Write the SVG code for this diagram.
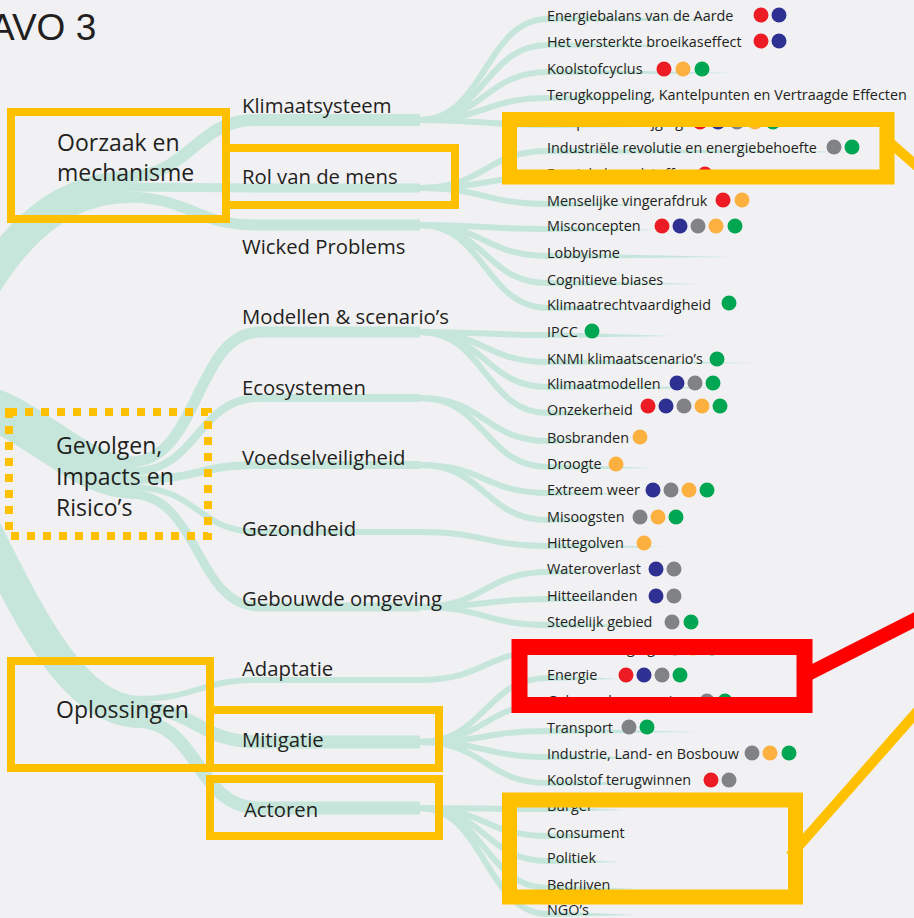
<svg xmlns="http://www.w3.org/2000/svg" width="914" height="918" viewBox="0 0 914 918">
<style>
.band{fill:none;stroke:#c6e6dc;stroke-linecap:butt}
.leaf{fill:none;stroke:#c6e6dc;stroke-width:6}
.tail{fill:#c6e6dc}
text{font-family:"Open Sans","Noto Sans",sans-serif;fill:#231f20}
.t1{font-size:23px}
.t2{font-size:20.3px}
.t3{font-size:14.4px}
.title{font-family:"Liberation Sans",Arial,sans-serif;font-size:37px}
.r{fill:#ed1c24}.b{fill:#2e3192}.g{fill:#808285}.o{fill:#fbb040}.gr{fill:#00a651}
.hl{fill:none;stroke:#ffc000;stroke-width:8}
.hl15{fill:none;stroke:#ffc000;stroke-width:15}
</style>
<rect width="914" height="918" fill="#f1f1f3"/>
<g id="connectors">
<path class="band" stroke-width="32" d="M-40 330C0 250 50 187 130 187"/>
<path class="band" stroke-width="42" d="M-40 400C30 410 75 478 135 478"/>
<path class="band" stroke-width="32" d="M-40 480C10 570 60 712 140 712"/>
<path class="band" stroke-width="12" d="M125 177C190 177 195 120 255 120L420 120"/>
<path class="band" stroke-width="9" d="M125 187C190 187 195 188 255 188L420 188"/>
<path class="band" stroke-width="11" d="M125 197C190 197 195 225 255 225L420 225"/>
<path class="band" stroke-width="11" d="M130 462C200 462 195 332 260 332L420 332"/>
<path class="band" stroke-width="8" d="M130 472C200 472 195 398 260 398L420 398"/>
<path class="band" stroke-width="8" d="M130 480C200 480 195 465 260 465L420 465"/>
<path class="band" stroke-width="6" d="M130 487C200 487 195 532 260 532L420 532"/>
<path class="band" stroke-width="9" d="M130 494C200 494 195 607 260 607L420 607"/>
<path class="band" stroke-width="6" d="M135 699C200 699 195 680 260 680L420 680"/>
<path class="band" stroke-width="13" d="M135 708C200 708 195 742 260 742L420 742"/>
<path class="band" stroke-width="13" d="M135 721C200 721 195 808 260 808L420 808"/>
<path class="leaf" d="M420 120C485 120 485 19 548 19"/>
<path class="leaf" d="M420 120C485 120 485 45 548 45"/>
<path class="leaf" d="M420 120C485 120 485 72 548 72"/>
<path class="leaf" d="M420 120C485 120 485 98 548 98"/>
<path class="leaf" d="M420 120C485 120 485 125 548 125"/>
<path class="leaf" d="M420 188C485 188 485 151 548 151"/>
<path class="leaf" d="M420 188C485 188 485 177 548 177"/>
<path class="leaf" d="M420 188C485 188 485 204 548 204"/>
<path class="leaf" d="M420 225C485 225 485 229 548 229"/>
<path class="leaf" d="M420 225C485 225 485 256 548 256"/>
<path class="leaf" d="M420 225C485 225 485 283 548 283"/>
<path class="leaf" d="M420 225C485 225 485 308 548 308"/>
<path class="leaf" d="M420 332C485 332 485 335 548 335"/>
<path class="leaf" d="M420 332C485 332 485 362 548 362"/>
<path class="leaf" d="M420 332C485 332 485 387 548 387"/>
<path class="leaf" d="M420 332C485 332 485 413 548 413"/>
<path class="leaf" d="M420 398C485 398 485 441 548 441"/>
<path class="leaf" d="M420 398C485 398 485 467 548 467"/>
<path class="leaf" d="M420 465C485 465 485 493 548 493"/>
<path class="leaf" d="M420 465C485 465 485 520 548 520"/>
<path class="leaf" d="M420 532C485 532 485 546 548 546"/>
<path class="leaf" d="M420 607C485 607 485 572 548 572"/>
<path class="leaf" d="M420 607C485 607 485 599 548 599"/>
<path class="leaf" d="M420 607C485 607 485 625 548 625"/>
<path class="leaf" d="M420 680C485 680 485 651 548 651"/>
<path class="leaf" d="M420 742C485 742 485 678 548 678"/>
<path class="leaf" d="M420 742C485 742 485 704 548 704"/>
<path class="leaf" d="M420 742C485 742 485 731 548 731"/>
<path class="leaf" d="M420 742C485 742 485 757 548 757"/>
<path class="leaf" d="M420 742C485 742 485 783 548 783"/>
<path class="leaf" d="M420 808C485 808 485 809 548 809"/>
<path class="leaf" d="M420 808C485 808 485 836 548 836"/>
<path class="leaf" d="M420 808C485 808 485 861 548 861"/>
<path class="leaf" d="M420 808C485 808 485 888 548 888"/>
<path class="leaf" d="M420 808C485 808 485 914 548 914"/>
<path class="tail" d="M548 16L740 20L548 22ZM548 42L700 46L548 48ZM548 69L737 73L548 75ZM548 95L665 99L548 101ZM548 122L752 126L548 128ZM548 148L870 152L548 154ZM548 174L700 178L548 180ZM548 201L650 205L548 207ZM548 226L657 230L548 232ZM548 253L733 257L548 259ZM548 280L700 284L548 286ZM548 305L640 309L548 311ZM548 332L673 336L548 338ZM548 359L760 363L548 365ZM548 384L728 388L548 390ZM548 410L640 414L548 416ZM548 438L600 442L548 444ZM548 464L652 468L548 470ZM548 490L620 494L548 496ZM548 517L600 521L548 523ZM548 543L665 547L548 549ZM548 569L600 573L548 575ZM548 596L610 600L548 602ZM548 622L660 626L548 628ZM548 648L727 652L548 654ZM548 675L620 679L548 681ZM548 701L640 705L548 707ZM548 728L698 732L548 734ZM548 754L650 758L548 760ZM548 780L660 784L548 786ZM548 806L625 810L548 812ZM548 833L633 837L548 839ZM548 858L622 862L548 864ZM548 885L640 889L548 891ZM548 911L637 915L548 917Z"/>
</g>
<text class="title" x="-10" y="40">AVO 3</text>
<g id="n-oorzaak"><text class="t1" x="57" y="151">Oorzaak en</text><text class="t1" x="57" y="181">mechanisme</text></g>
<g id="n-gevolgen"><text class="t1" x="56" y="454">Gevolgen,</text><text class="t1" x="56" y="485">Impacts en</text><text class="t1" x="56" y="516">Risico’s</text></g>
<g id="n-oplossingen"><text class="t1" x="56" y="718">Oplossingen</text></g>
<g id="n-klimaatsysteem"><text class="t2" x="242" y="113">Klimaatsysteem</text></g>
<g id="n-rol"><text class="t2" x="242" y="184">Rol van de mens</text></g>
<g id="n-wicked"><text class="t2" x="242" y="254">Wicked Problems</text></g>
<g id="n-modellen"><text class="t2" x="242" y="324">Modellen &amp; scenario’s</text></g>
<g id="n-ecosystemen"><text class="t2" x="242" y="395">Ecosystemen</text></g>
<g id="n-voedsel"><text class="t2" x="242" y="465">Voedselveiligheid</text></g>
<g id="n-gezondheid"><text class="t2" x="242" y="536">Gezondheid</text></g>
<g id="n-gebouwde"><text class="t2" x="242" y="606">Gebouwde omgeving</text></g>
<g id="n-adaptatie"><text class="t2" x="242" y="676">Adaptatie</text></g>
<g id="n-mitigatie"><text class="t2" x="242" y="747">Mitigatie</text></g>
<g id="n-actoren"><text class="t2" x="244" y="817">Actoren</text></g>
<g id="leaf1"><text class="t3" x="547" y="21">Energiebalans van de Aarde</text><circle class="r" cx="761" cy="15" r="7.5"/><circle class="b" cx="779" cy="15" r="7.5"/></g>
<g id="leaf2"><text class="t3" x="547" y="47">Het versterkte broeikaseffect</text><circle class="r" cx="761" cy="41" r="7.5"/><circle class="b" cx="779" cy="41" r="7.5"/></g>
<g id="leaf3"><text class="t3" x="547" y="74">Koolstofcyclus</text><circle class="r" cx="664" cy="69" r="7.5"/><circle class="o" cx="683" cy="69" r="7.5"/><circle class="gr" cx="702" cy="69" r="7.5"/></g>
<g id="leaf4"><text class="t3" x="547" y="100">Terugkoppeling, Kantelpunten en Vertraagde Effecten</text></g>
<g id="leaf5"><text class="t3" x="547" y="127">Temperatuurstijging</text><circle class="r" cx="700" cy="122" r="7.5"/><circle class="b" cx="718" cy="122" r="7.5"/><circle class="g" cx="737" cy="122" r="7.5"/><circle class="o" cx="755" cy="122" r="7.5"/><circle class="gr" cx="773" cy="122" r="7.5"/></g>
<g id="leaf6"><text class="t3" x="547" y="153">Industriële revolutie en energiebehoefte</text><circle class="g" cx="834" cy="147" r="7.5"/><circle class="gr" cx="852" cy="147" r="7.5"/></g>
<g id="leaf7"><text class="t3" x="547" y="179">Fossiele brandstoffen</text><circle class="r" cx="705" cy="174" r="7.5"/></g>
<g id="leaf8"><text class="t3" x="547" y="206">Menselijke vingerafdruk</text><circle class="r" cx="723" cy="200" r="7.5"/><circle class="o" cx="742" cy="200" r="7.5"/></g>
<g id="leaf9"><text class="t3" x="547" y="231">Misconcepten</text><circle class="r" cx="662" cy="226" r="7.5"/><circle class="b" cx="680" cy="226" r="7.5"/><circle class="g" cx="698" cy="226" r="7.5"/><circle class="o" cx="716" cy="226" r="7.5"/><circle class="gr" cx="735" cy="226" r="7.5"/></g>
<g id="leaf10"><text class="t3" x="547" y="258">Lobbyisme</text></g>
<g id="leaf11"><text class="t3" x="547" y="285">Cognitieve biases</text></g>
<g id="leaf12"><text class="t3" x="547" y="310">Klimaatrechtvaardigheid</text><circle class="gr" cx="729" cy="303" r="7.5"/></g>
<g id="leaf13"><text class="t3" x="547" y="337">IPCC</text><circle class="gr" cx="592" cy="331" r="7.5"/></g>
<g id="leaf14"><text class="t3" x="547" y="364">KNMI klimaatscenario’s</text><circle class="gr" cx="717" cy="359" r="7.5"/></g>
<g id="leaf15"><text class="t3" x="547" y="389">Klimaatmodellen</text><circle class="b" cx="677" cy="383" r="7.5"/><circle class="g" cx="695" cy="383" r="7.5"/><circle class="gr" cx="713" cy="383" r="7.5"/></g>
<g id="leaf16"><text class="t3" x="547" y="415">Onzekerheid</text><circle class="r" cx="648" cy="406" r="7.5"/><circle class="b" cx="666" cy="406" r="7.5"/><circle class="g" cx="684" cy="406" r="7.5"/><circle class="o" cx="702" cy="406" r="7.5"/><circle class="gr" cx="720" cy="406" r="7.5"/></g>
<g id="leaf17"><text class="t3" x="547" y="443">Bosbranden</text><circle class="o" cx="640" cy="437" r="7.5"/></g>
<g id="leaf18"><text class="t3" x="547" y="469">Droogte</text><circle class="o" cx="616" cy="464" r="7.5"/></g>
<g id="leaf19"><text class="t3" x="547" y="495">Extreem weer</text><circle class="b" cx="653" cy="490" r="7.5"/><circle class="g" cx="671" cy="490" r="7.5"/><circle class="o" cx="689" cy="490" r="7.5"/><circle class="gr" cx="707" cy="490" r="7.5"/></g>
<g id="leaf20"><text class="t3" x="547" y="522">Misoogsten</text><circle class="g" cx="640" cy="517" r="7.5"/><circle class="o" cx="658" cy="517" r="7.5"/><circle class="gr" cx="676" cy="517" r="7.5"/></g>
<g id="leaf21"><text class="t3" x="547" y="548">Hittegolven</text><circle class="o" cx="644" cy="543" r="7.5"/></g>
<g id="leaf22"><text class="t3" x="547" y="574">Wateroverlast</text><circle class="b" cx="656" cy="569" r="7.5"/><circle class="g" cx="674" cy="569" r="7.5"/></g>
<g id="leaf23"><text class="t3" x="547" y="601">Hitteeilanden</text><circle class="b" cx="656" cy="596" r="7.5"/><circle class="g" cx="674" cy="596" r="7.5"/></g>
<g id="leaf24"><text class="t3" x="547" y="627">Stedelijk gebied</text><circle class="g" cx="672" cy="622" r="7.5"/><circle class="gr" cx="691" cy="622" r="7.5"/></g>
<g id="leaf25"><text class="t3" x="547" y="653">Kustverdediging</text><circle class="g" cx="675" cy="648" r="7.5"/><circle class="o" cx="693" cy="648" r="7.5"/><circle class="gr" cx="712" cy="648" r="7.5"/></g>
<g id="leaf26"><text class="t3" x="547" y="680">Energie</text><circle class="r" cx="626" cy="675" r="7.5"/><circle class="b" cx="644" cy="675" r="7.5"/><circle class="g" cx="662" cy="675" r="7.5"/><circle class="gr" cx="680" cy="675" r="7.5"/></g>
<g id="leaf27"><text class="t3" x="547" y="706">Gebouwde omgeving</text><circle class="g" cx="707" cy="701" r="7.5"/><circle class="gr" cx="725" cy="701" r="7.5"/></g>
<g id="leaf28"><text class="t3" x="547" y="733">Transport</text><circle class="g" cx="629" cy="727" r="7.5"/><circle class="gr" cx="647" cy="727" r="7.5"/></g>
<g id="leaf29"><text class="t3" x="547" y="759">Industrie, Land- en Bosbouw</text><circle class="g" cx="752" cy="753" r="7.5"/><circle class="o" cx="770" cy="753" r="7.5"/><circle class="gr" cx="789" cy="753" r="7.5"/></g>
<g id="leaf30"><text class="t3" x="547" y="785">Koolstof terugwinnen</text><circle class="r" cx="711" cy="780" r="7.5"/><circle class="g" cx="729" cy="780" r="7.5"/></g>
<g id="leaf31"><text class="t3" x="547" y="811">Burger</text></g>
<g id="leaf32"><text class="t3" x="547" y="838">Consument</text></g>
<g id="leaf33"><text class="t3" x="547" y="863">Politiek</text></g>
<g id="leaf34"><text class="t3" x="547" y="890">Bedrijven</text></g>
<g id="leaf35"><text class="t3" x="547" y="915">NGO’s</text></g>
<g id="highlights">
<rect class="hl" x="11" y="112" width="215" height="107"/>
<rect class="hl" x="226" y="148" width="229" height="57"/>
<rect class="hl" x="9" y="412" width="199" height="124" stroke-dasharray="8 8"/>
<rect class="hl" x="11" y="661" width="199" height="107"/>
<rect class="hl" x="210" y="710" width="229" height="58"/>
<rect class="hl" x="210" y="779" width="229" height="57"/>
<rect class="hl15" x="509.5" y="119.5" width="377.5" height="57.5"/>
<rect class="hl15" x="509.5" y="800" width="286" height="97"/>
<line x1="887" y1="140" x2="935" y2="182" stroke="#ffc000" stroke-width="10"/>
<line x1="790" y1="856" x2="930" y2="697" stroke="#ffc000" stroke-width="10"/>
<rect x="519.5" y="647" width="285" height="58" fill="none" stroke="#ff0000" stroke-width="16"/>
<line x1="800" y1="678" x2="930" y2="612" stroke="#ff0000" stroke-width="14"/>
</g>
</svg>
